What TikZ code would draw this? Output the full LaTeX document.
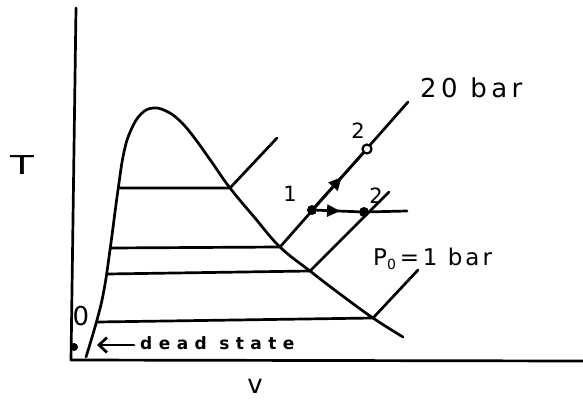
\documentclass[tikz,border=0pt]{standalone}
\usepackage{fontspec}
\newfontfamily\handa{DejaVu Sans}[LetterSpace=17]
\newfontfamily\handb{DejaVu Sans}[LetterSpace=13]
\newfontfamily\handc{DejaVu Sans Bold}[LetterSpace=38]
\newfontfamily\hand{DejaVu Sans}
\usetikzlibrary{arrows.meta,decorations.markings}
\tikzset{
  ink/.style={line width=2.7pt, line cap=round, line join=round},
  midarrow/.style={postaction={decorate},decoration={markings,mark=at position 0.55 with {\arrow{Triangle[length=13pt,width=12pt]}}}},
  fdot/.style={circle, fill=black, inner sep=0pt, minimum size=10pt},
  odot/.style={circle, draw=black, line width=2.2pt, fill=white, inner sep=0pt, minimum size=9pt},
  lbl/.style={font=\hand\fontsize{21}{23}\selectfont, inner sep=0pt},
  big/.style={font=\hand\fontsize{26}{28}\selectfont, inner sep=0pt}
}
\begin{document}
\begin{tikzpicture}[x=1pt,y=-1pt]
\useasboundingbox (0,0) rectangle (583,399);
% axes
\coordinate (ytop) at (76,8);
\coordinate (orig) at (71,360);
\coordinate (xend) at (583,361);
\draw[ink] (ytop) -- (orig) -- (xend);
\node[big, xscale=1.5] (T) at (22,165) {T};
\node[big, text depth=0pt] (v) at (255,386) {v};
% dome
\draw[ink] plot[smooth, tension=0.7] coordinates {(86,357) (97,320) (104,290) (110,250) (118,190) (124,152) (131,130) (141,114) (153,108) (166,111) (179,120) (193,136) (211,161) (230,188) (255,218) (280,247) (310,271) (340,294) (373,318) (403,337)};
% isobar corners
\coordinate (a1) at (230,188);
\coordinate (a2) at (280,247);
\coordinate (a3) at (310,271);
\coordinate (a4) at (373,318);
\coordinate (b1) at (120,188);
\coordinate (b2) at (110,248);
\coordinate (b3) at (107,274);
\coordinate (b4) at (97,322);
\coordinate (c1) at (277,138);
\coordinate (c2) at (408,102);
\coordinate (c3) at (389,192);
\coordinate (c4) at (418,270);
\draw[ink] (b1) -- (a1) -- (c1);
\draw[ink] (b2) -- (a2) -- (c2);
\draw[ink] (b3) -- (a3) -- (c3);
\draw[ink] (b4) -- (a4) -- (c4);
% states
\node[fdot] (p1) at (312,210) {};
\node[odot] (p2u) at (367,149) {};
\node[fdot] (p2l) at (364,212) {};
\coordinate (hend) at (407,211);
\draw[ink, midarrow] (p1) -- (p2u);
\draw[ink, midarrow] (p1) -- (p2l);
\draw[ink] (p2l) -- (hend);
\node[lbl] (l1) at (290,194) {1};
\node[lbl] (l2u) at (358,131) {2};
\node[lbl] (l2l) at (376,196) {2};
\node[font=\handa\fontsize{26}{28}\selectfont, inner sep=0pt, anchor=west] (l20) at (420,88) {20 bar};
\node[font=\handb\fontsize{23}{25}\selectfont, inner sep=0pt, anchor=west] (lp0) at (373,259) {P\raisebox{-0.35ex}{\fontsize{14}{14}\selectfont 0}\,=\,1 bar};
% dead state
\node[fdot, minimum size=8pt] (d0) at (74,347) {};
\node[big] (l0) at (81,316) {0};
\node[font=\handc\fontsize{17}{19}\selectfont, inner sep=0pt, anchor=west] (dead) at (140,343) {dead state};
\coordinate (ds) at ([xshift=-6pt]dead.west);
\coordinate (dtip) at (97,345);
\draw[ink, -{Straight Barb[length=8pt,width=15pt]}] (ds |- dtip) -- (dtip);
\end{tikzpicture}
\end{document}
